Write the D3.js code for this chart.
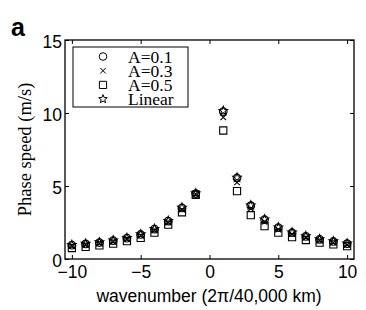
<!DOCTYPE html>
<html>
<head>
<meta charset="utf-8">
<script src="https://cdn.jsdelivr.net/npm/d3@7"></script>
<style>
body { margin: 0; background: #fff; }
svg { display: block; }
</style>
</head>
<body>
<svg id="chart" width="366" height="310"></svg>
<script>
'use strict'

// wavenumbers (k=0 not shown)
const waveNumbers = [-10, -9, -8, -7, -6, -5, -4, -3, -2, -1, 1, 2, 3, 4, 5, 6, 7, 8, 9, 10]
const speedA01 = [0.95, 1.03, 1.13, 1.26, 1.43, 1.68, 2.05, 2.6, 3.5, 4.48, 10.1, 5.55, 3.65, 2.7, 2.15, 1.8, 1.55, 1.35, 1.2, 1.05]
const speedA03 = [0.9, 0.98, 1.08, 1.2, 1.37, 1.6, 1.96, 2.5, 3.38, 4.45, 9.7, 5.25, 3.45, 2.55, 2.02, 1.7, 1.46, 1.27, 1.12, 0.98]
const speedA05 = [0.75, 0.83, 0.93, 1.05, 1.22, 1.45, 1.8, 2.35, 3.2, 4.4, 8.8, 4.65, 3.0, 2.25, 1.8, 1.5, 1.3, 1.12, 1.0, 0.88]
const speedLinear = [0.97, 1.05, 1.15, 1.28, 1.45, 1.7, 2.07, 2.62, 3.52, 4.5, 10.15, 5.58, 3.68, 2.72, 2.17, 1.82, 1.57, 1.37, 1.22, 1.07]
const xTicks = [-10, -5, 0, 5, 10]
const yTicks = [0, 5, 10, 15]
const legendLabels = ['A=0.1', 'A=0.3', 'A=0.5', 'Linear']

const svg = d3.select('#chart')
const plotL = 65, plotR = 354, plotT = 40, plotB = 259

const x = d3.scaleLinear().domain([-10.5, 10.5]).range([plotL, plotR])
const y = d3.scaleLinear().domain([0, 15]).range([plotB, plotT])

const serif = '"Liberation Serif", "DejaVu Serif", serif'
const sans = '"Liberation Sans", Arial, sans-serif'

// marker paths
function markerPath(kind){
	if(kind == 'circle') return d3.symbol(d3.symbolCircle, 46)()
	if(kind == 'square') return 'M-3.6,-3.6H3.6V3.6H-3.6Z'
	if(kind == 'cross') return 'M-2.8,-2.8L2.8,2.8M-2.8,2.8L2.8,-2.8'
	// pentagram
	let pts = []
	for(let i = 0; i < 10; i++){
		let r = i % 2 == 0 ? 4.5 : 1.9
		let a = -Math.PI / 2 + i * Math.PI / 5
		pts.push([r * Math.cos(a), r * Math.sin(a)])
	}
	return 'M' + pts.map(p => p[0].toFixed(2) + ',' + p[1].toFixed(2)).join('L') + 'Z'
}

const series = [
	{kind: 'circle', values: speedA01},
	{kind: 'cross', values: speedA03},
	{kind: 'square', values: speedA05},
	{kind: 'star', values: speedLinear}
]

// axes with inward ticks, box on
const xAxisB = d3.axisBottom(x).tickValues(xTicks).tickSizeInner(-4).tickSizeOuter(0).tickFormat(d => d < 0 ? '\u2212' + Math.abs(d) : d)
const xAxisT = d3.axisTop(x).tickValues(xTicks).tickSizeInner(-4).tickSizeOuter(0).tickFormat('')
const yAxisL = d3.axisLeft(y).tickValues(yTicks).tickSizeInner(-4).tickSizeOuter(0)
const yAxisR = d3.axisRight(y).tickValues(yTicks).tickSizeInner(-4).tickSizeOuter(0).tickFormat('')

function styleAxis(g){
	g.select('.domain').remove()
	g.selectAll('.tick line').attr('stroke', '#000').attr('stroke-width', 1)
	g.selectAll('.tick text').attr('fill', '#000').style('font-family', sans).style('font-size', '17.5px')
}

svg.append('g').attr('transform', 'translate(0,' + plotB + ')').call(xAxisB).call(styleAxis)
	.selectAll('.tick text').attr('y', 7).attr('dy', '0.71em')
svg.append('g').attr('transform', 'translate(0,' + plotT + ')').call(xAxisT).call(styleAxis)
svg.append('g').attr('transform', 'translate(' + plotL + ',0)').call(yAxisL).call(styleAxis)
	.selectAll('.tick text').attr('x', -3).attr('dy', '0.42em')
svg.append('g').attr('transform', 'translate(' + plotR + ',0)').call(yAxisR).call(styleAxis)

svg.append('rect')
	.attr('x', plotL).attr('y', plotT)
	.attr('width', plotR - plotL).attr('height', plotB - plotT)
	.attr('fill', 'none').attr('stroke', '#000').attr('stroke-width', 1.3)

// markers
series.forEach(function(s){
	svg.append('g').selectAll('path')
		.data(waveNumbers.map((k, i) => [k, s.values[i]]))
		.join('path')
		.attr('transform', d => 'translate(' + x(d[0]) + ',' + y(d[1]) + ')')
		.attr('d', markerPath(s.kind))
		.attr('fill', 'none')
		.attr('stroke', '#000')
		.attr('stroke-width', 1.1)
})

// legend: one multi-line text block, tight line spacing like the original
const lg = svg.append('g')
const legRow = 14.2, legY0 = 56.5
lg.append('rect').attr('x', 73).attr('y', 47).attr('width', 115).attr('height', 60)
	.attr('fill', '#fff').attr('stroke', '#000').attr('stroke-width', 1)
series.forEach(function(s, i){
	lg.append('path').attr('transform', 'translate(103,' + (legY0 + i * legRow) + ')')
		.attr('d', markerPath(s.kind)).attr('fill', 'none').attr('stroke', '#000')
})
lg.append('text')
	.attr('y', legY0)
	.style('font-family', serif).style('font-size', '17.5px')
	.selectAll('tspan')
	.data(legendLabels)
	.join('tspan')
	.attr('x', 128)
	.attr('y', (d, i) => legY0 + i * legRow)
	.attr('dy', '0.36em')
	.text(d => d)

// axis labels
svg.append('text')
	.attr('transform', 'translate(31,' + ((plotT + plotB) / 2) + ') rotate(-90)')
	.attr('text-anchor', 'middle')
	.style('font-family', serif).style('font-size', '18.5px')
	.text('Phase speed (m/s)')

svg.append('text')
	.attr('x', 209).attr('y', 302)
	.attr('text-anchor', 'middle')
	.style('font-family', sans).style('font-size', '17.5px')
	.text('wavenumber (2\u03c0/40,000 km)')

svg.append('text')
	.attr('x', 11).attr('y', 36)
	.style('font-family', sans).style('font-size', '25px').style('font-weight', 'bold')
	.text('a')
</script>
</body>
</html>
